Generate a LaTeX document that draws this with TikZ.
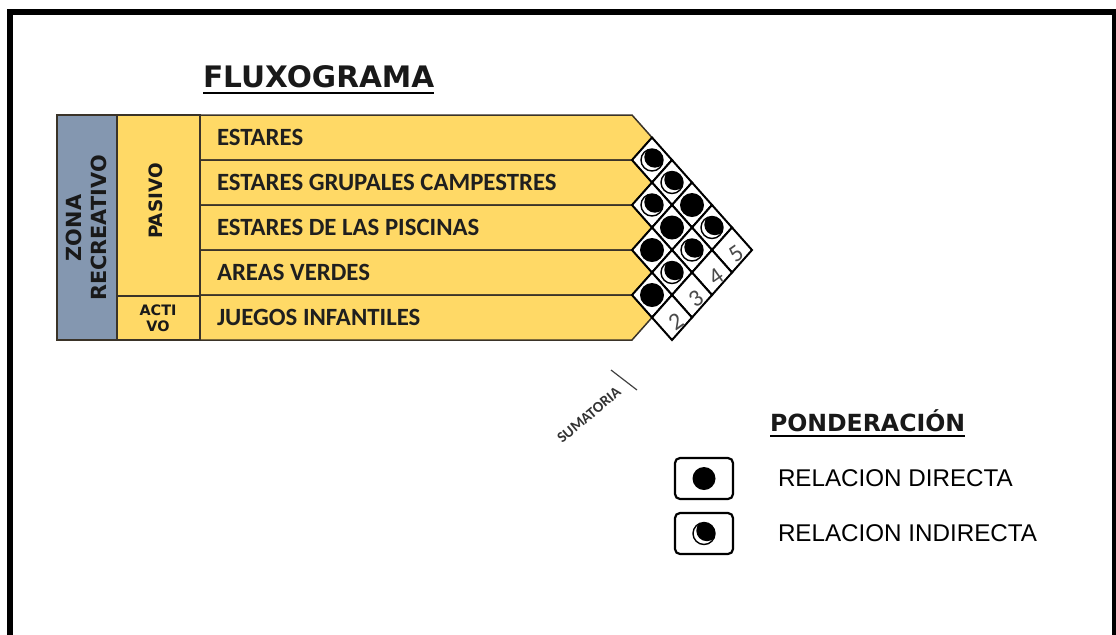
\documentclass[tikz,border=0pt]{standalone}
\usepackage{fontspec}
\setmainfont{Carlito}
\newfontfamily\headfont{DejaVu Sans}
\newfontfamily\legendfont{Liberation Sans}
\usetikzlibrary{positioning}
\definecolor{rowyellow}{HTML}{FFD966}
\definecolor{zonablue}{HTML}{8497B0}
\definecolor{edgedark}{HTML}{3A3328}
\definecolor{numgray}{HTML}{4A4A4A}
\newcommand{\halfmoon}[2]{%
  \begin{scope}
    \clip (#1,#2) circle[radius=11];
    \fill[black] ({#1+2.8},{#2-2.8}) circle[radius=10.5];
  \end{scope}
  \draw[black, line width=0.7pt] (#1,#2) circle[radius=11];
}

\begin{document}
\begin{tikzpicture}[x=0.5pt, y=-0.5pt,
  every node/.style={outer sep=0pt},
  boxfill/.style={draw=edgedark, line width=0.75pt},
  rowtext/.style={font=\bfseries\fontsize{12.4}{13}\selectfont, text=black!88, anchor=base west, inner sep=0pt},
  headtext/.style={font=\headfont\bfseries, text=black!90, inner sep=0pt},
  cellline/.style={draw=black, fill=white, line width=1pt},
  legendbox/.style={draw=black, line width=1.1pt, rounded corners=2.5pt, minimum width=29pt, minimum height=20.5pt, inner sep=0pt}]

\useasboundingbox (0,0) rectangle (1116,634);

% Outer frame
\draw[black, line width=3pt] (9.5,12) rectangle (1114.5,660);

% Title
\node[headtext, font=\headfont\bfseries\fontsize{14.8}{16}\selectfont, anchor=base west] (title) at (203,87) {FLUXOGRAMA};
\draw[black, line width=1pt] ([yshift=-3pt]title.base west) -- ([yshift=-3pt]title.base east);

% Zone and type columns
\filldraw[boxfill, fill=zonablue] (57,115) rectangle (117,340);
\node[headtext, font=\headfont\bfseries\fontsize{10.4}{12.5}\selectfont, align=center, rotate=90]
  (zona) at (86,228) {ZONA\\RECREATIVO};
\filldraw[boxfill, fill=rowyellow] (117,115) rectangle (200,296);
\node[headtext, font=\headfont\bfseries\fontsize{9.2}{10}\selectfont, rotate=90]
  (pasivo) at (156,201) {PASIVO};
\filldraw[boxfill, fill=rowyellow] (117,296) rectangle (200,340);
\node[headtext, font=\headfont\bfseries\fontsize{7.2}{7.8}\selectfont, align=center]
  (activo) at (158,318) {ACTI\\VO};

% Rows with arrow heads
\foreach \lbl [count=\i] in {ESTARES, ESTARES GRUPALES CAMPESTRES, ESTARES DE LAS PISCINAS, AREAS VERDES, JUEGOS INFANTILES}{
  \pgfmathsetmacro{\yT}{115+45*(\i-1)}
  \filldraw[boxfill, fill=rowyellow]
    (200,\yT) -- (632,\yT) -- (652,{\yT+22.5}) -- (632,{\yT+45}) -- (200,{\yT+45}) -- cycle;
  \node[rowtext] (row\i) at (217,{\yT+30}) {\lbl};
}

% Relation matrix cells
\foreach \i/\j in {1/2,1/3,1/4,1/5,2/3,2/4,2/5,3/4,3/5,4/5,1/6,2/6,3/6,4/6}{
  \pgfmathsetmacro{\cx}{632+20*(\j-\i)}
  \pgfmathsetmacro{\cy}{137.5+22.5*(\i+\j-2)}
  \filldraw[cellline] ({\cx-20},\cy) -- (\cx,{\cy-22.5}) -- ({\cx+20},\cy) -- (\cx,{\cy+22.5}) -- cycle;
}

% Direct relations
\foreach \i/\j in {1/4,2/4,3/4,4/5}{
  \pgfmathsetmacro{\cx}{632+20*(\j-\i)}
  \pgfmathsetmacro{\cy}{137.5+22.5*(\i+\j-2)}
  \fill[black] (\cx,\cy) circle[radius=12];
}

% Indirect relations
\foreach \i/\j in {1/2,1/3,1/5,2/3,2/5,3/5}{
  \pgfmathsetmacro{\cx}{632+20*(\j-\i)}
  \pgfmathsetmacro{\cy}{137.5+22.5*(\i+\j-2)}
  \halfmoon{\cx}{\cy}
}

% Sums
\foreach \i in {1,...,4}{
  \pgfmathsetmacro{\cx}{632+20*(6-\i)}
  \pgfmathsetmacro{\cy}{137.5+22.5*(\i+4)}
  \pgfmathtruncatemacro{\total}{6-\i}
  \node[font=\fontsize{12}{12}\selectfont, text=numgray, rotate=35, inner sep=0pt]
    (sum\i) at ({\cx+4},{\cy+4}) {\total};
}

\node[font=\bfseries\fontsize{7.6}{8}\selectfont, text=black!80, rotate=40, inner sep=0pt]
  (sumatoria) at (589,415) {SUMATORIA};
\coordinate (tickA) at (611,370);
\coordinate (tickB) at (637,390);
\draw[black!75, line width=0.6pt] (tickA) -- (tickB);

% Legend
\node[headtext, font=\headfont\bfseries\fontsize{11.8}{13}\selectfont, anchor=base west]
  (ponder) at (770,431) {PONDERACIÓN};
\draw[black, line width=1pt] ([yshift=-2.5pt]ponder.base west) -- ([yshift=-2.5pt]ponder.base east);

\node[legendbox] (keyD) at (704,478.5) {};
\node[legendbox] (keyI) at (704,533.5) {};
\fill[black] (keyD.center) circle[radius=11.5];
\halfmoon{704}{533.5}

\node[font=\legendfont\fontsize{12.1}{13}\selectfont, anchor=west, inner sep=0pt]
  (txtD) at (778,478) {RELACION DIRECTA};
\node[font=\legendfont\fontsize{12.1}{13}\selectfont, anchor=west, inner sep=0pt]
  (txtI) at (778,533) {RELACION INDIRECTA};

\end{tikzpicture}
\end{document}
